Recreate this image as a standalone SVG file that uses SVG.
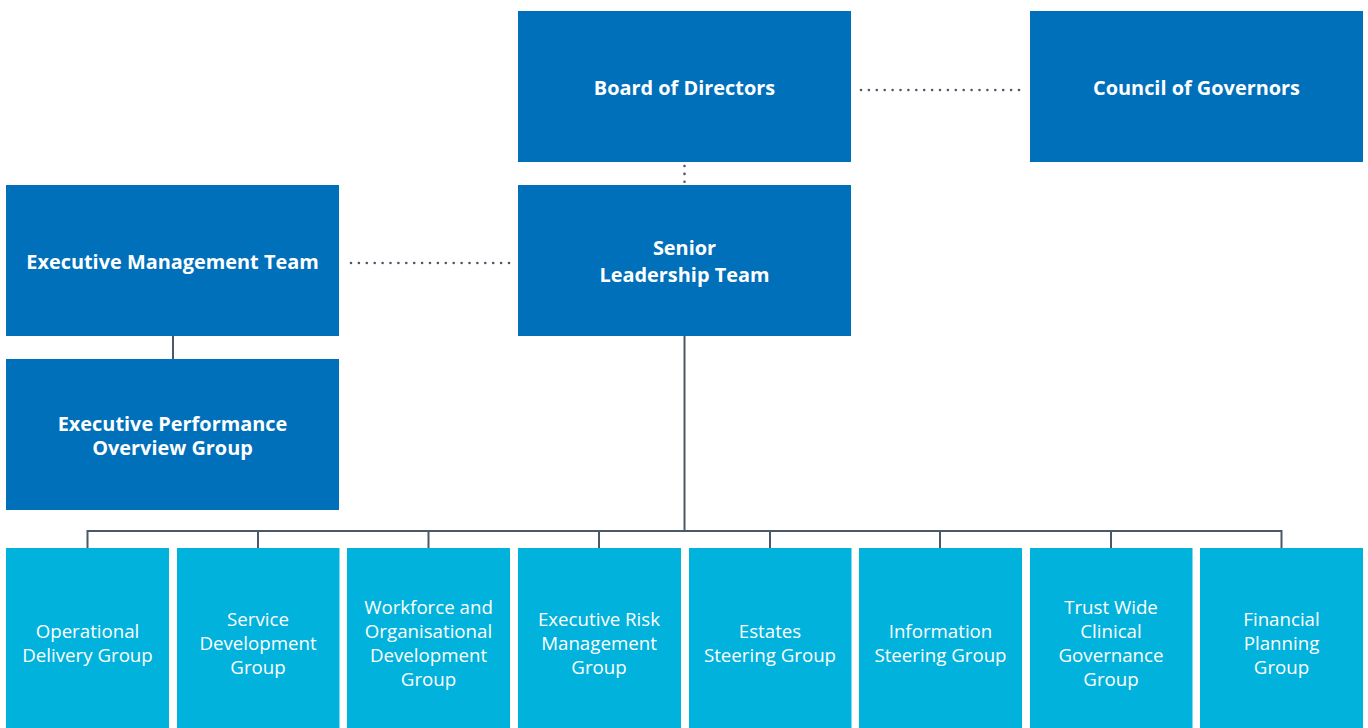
<svg xmlns="http://www.w3.org/2000/svg" width="1368" height="728" viewBox="0 0 1368 728">
  <style>
    .dark { fill: #0070ba; }
    .light { fill: #00b2dc; }
    .t { font-family: "Open Sans", "Noto Sans", "Liberation Sans", sans-serif; fill: #ffffff; text-anchor: middle; }
    .b { font-size: 19.9px; font-weight: 700; }
    .r { font-size: 18.7px; font-weight: 400; }
    .solid { stroke: #4a5868; stroke-width: 2; fill: none; }
    .dot { stroke: #4a5868; stroke-width: 2.6; stroke-linecap: round; stroke-dasharray: 0 7.9; fill: none; }
  </style>
  <rect width="1368" height="728" fill="#ffffff"/>

  <!-- connectors -->
  <g id="connectors">
    <line class="dot" x1="861" y1="90" x2="1011.5" y2="90"/>
    <line class="dot" x1="1019" y1="90" x2="1019.01" y2="90"/>
    <line class="dot" x1="351" y1="263" x2="501.5" y2="263"/>
    <line class="dot" x1="509" y1="263" x2="509.01" y2="263"/>
    <line class="dot" x1="684.5" y1="166" x2="684.5" y2="182"/>
    <line class="solid" x1="173" y1="336" x2="173" y2="359"/>
    <line class="solid" x1="684.5" y1="336" x2="684.5" y2="531"/>
    <path class="solid" d="M87.5 548 V531 H1281.5 V548 M258 531 V548 M428.5 531 V548 M599 531 V548 M770 531 V548 M940 531 V548 M1111 531 V548"/>
  </g>

  <g id="board">
    <rect class="dark" x="518" y="11" width="333" height="151"/>
    <text class="t b" x="684.5" y="95">Board of Directors</text>
  </g>
  <g id="council">
    <rect class="dark" x="1030" y="11" width="333" height="151"/>
    <text class="t b" x="1196.5" y="95">Council of Governors</text>
  </g>
  <g id="emt">
    <rect class="dark" x="6" y="185" width="333" height="151"/>
    <text class="t b" x="172.5" y="269">Executive Management Team</text>
  </g>
  <g id="slt">
    <rect class="dark" x="518" y="185" width="333" height="151"/>
    <text class="t b" x="684.5" y="255">Senior</text>
    <text class="t b" x="684.5" y="282">Leadership Team</text>
  </g>
  <g id="epog">
    <rect class="dark" x="6" y="359" width="333" height="151"/>
    <text class="t b" x="172.5" y="430.5">Executive Performance</text>
    <text class="t b" x="172.5" y="455">Overview Group</text>
  </g>

  <g id="operational">
    <rect class="light" x="6" y="548" width="163" height="180"/>
    <text class="t r" x="87.5" y="638">Operational</text>
    <text class="t r" x="87.5" y="662">Delivery Group</text>
  </g>
  <g id="service">
    <rect class="light" x="177" y="548" width="162.5" height="180"/>
    <text class="t r" x="258" y="626">Service</text>
    <text class="t r" x="258" y="650">Development</text>
    <text class="t r" x="258" y="674">Group</text>
  </g>
  <g id="workforce">
    <rect class="light" x="347" y="548" width="163" height="180"/>
    <text class="t r" x="428.5" y="614">Workforce and</text>
    <text class="t r" x="428.5" y="638">Organisational</text>
    <text class="t r" x="428.5" y="662">Development</text>
    <text class="t r" x="428.5" y="686">Group</text>
  </g>
  <g id="risk">
    <rect class="light" x="518" y="548" width="163" height="180"/>
    <text class="t r" x="599" y="626">Executive Risk</text>
    <text class="t r" x="599" y="650">Management</text>
    <text class="t r" x="599" y="674">Group</text>
  </g>
  <g id="estates">
    <rect class="light" x="689" y="548" width="162.5" height="180"/>
    <text class="t r" x="770" y="638">Estates</text>
    <text class="t r" x="770" y="662">Steering Group</text>
  </g>
  <g id="information">
    <rect class="light" x="859" y="548" width="163" height="180"/>
    <text class="t r" x="940.5" y="638">Information</text>
    <text class="t r" x="940.5" y="662">Steering Group</text>
  </g>
  <g id="clinical">
    <rect class="light" x="1030" y="548" width="162.5" height="180"/>
    <text class="t r" x="1111" y="614">Trust Wide</text>
    <text class="t r" x="1111" y="638">Clinical</text>
    <text class="t r" x="1111" y="662">Governance</text>
    <text class="t r" x="1111" y="686">Group</text>
  </g>
  <g id="financial">
    <rect class="light" x="1200" y="548" width="163" height="180"/>
    <text class="t r" x="1281.5" y="626">Financial</text>
    <text class="t r" x="1281.5" y="650">Planning</text>
    <text class="t r" x="1281.5" y="674">Group</text>
  </g>
</svg>
